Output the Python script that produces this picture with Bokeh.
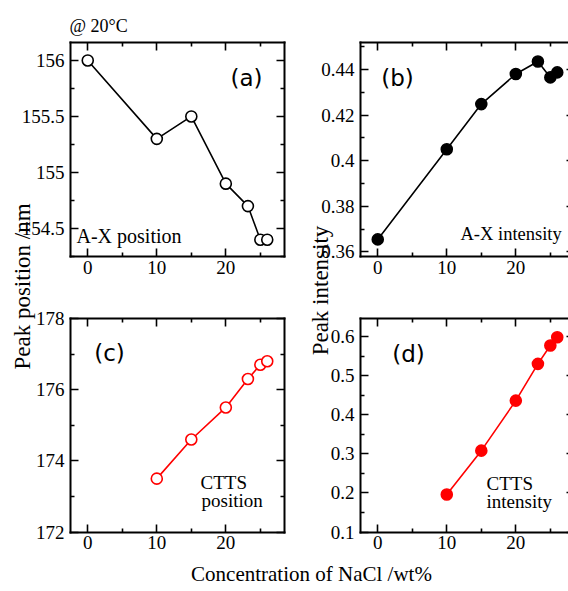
import math
from bokeh.plotting import figure
from bokeh.models import Range1d, LinearAxis, FixedTicker, Label
from bokeh.embed import file_html
from bokeh.resources import INLINE

# ---------------- data ----------------
conc_ax = [0, 10, 15, 20, 23.2, 25, 26]
ax_position = [156.0, 155.3, 155.5, 154.9, 154.7, 154.4, 154.4]
ax_intensity = [0.3655, 0.405, 0.4248, 0.438, 0.4435, 0.4365, 0.4387]

conc_ctts = [10, 15, 20, 23.2, 25, 26]
ctts_position = [173.5, 174.6, 175.5, 176.3, 176.7, 176.8]
ctts_intensity = [0.196, 0.308, 0.436, 0.530, 0.577, 0.598]

x_ticks = [0, 10, 20]
x_tick_labels = ["0", "10", "20"]
x_minor = [5, 15, 25]

a_ticks = [154.5, 155, 155.5, 156]
a_tick_labels = ["154.5", "155", "155.5", "156"]
a_minor = [154.25, 154.75, 155.25, 155.75]

b_ticks = [0.36, 0.38, 0.40, 0.42, 0.44]
b_tick_labels = ["0.36", "0.38", "0.4", "0.42", "0.44"]
b_minor = [0.37, 0.39, 0.41, 0.43, 0.45]

c_ticks = [172, 174, 176, 178]
c_tick_labels = ["172", "174", "176", "178"]
c_minor = [173, 175, 177]

d_ticks = [0.1, 0.2, 0.3, 0.4, 0.5, 0.6]
d_tick_labels = ["0.1", "0.2", "0.3", "0.4", "0.5", "0.6"]
d_minor = [0.15, 0.25, 0.35, 0.45, 0.55]

# ---------------- layout ----------------
W, H = 568, 591
SERIF = "Liberation Serif"
SANS = "DejaVu Sans"

p = figure(width=W, height=H, x_range=Range1d(0, W), y_range=Range1d(H, 0),
           x_axis_type=None, y_axis_type=None, toolbar_location=None,
           output_backend="svg", min_border=0)
p.outline_line_color = None
p.background_fill_color = "white"
p.border_fill_color = "white"

def x_range_for(d0, d1, p0, p1):
    k = (d1 - d0) / (p1 - p0)
    return Range1d(d0 - p0 * k, d0 + (W - p0) * k)

def y_range_for(d0, d1, top, bottom):
    k = (d1 - d0) / (bottom - top)
    return Range1d(d0 + (bottom - H) * k, d0 + bottom * k)

panels = {
    "a": dict(box=(70, 284, 42, 256), xd=(-2.5, 28.5), yd=(154.25, 156.16),
              yt=a_ticks, yl=a_tick_labels, ym=a_minor),
    "b": dict(box=(360, 574, 42, 256), xd=(-2.5, 28.5), yd=(0.358, 0.4518),
              yt=b_ticks, yl=b_tick_labels, ym=b_minor),
    "c": dict(box=(70, 284, 318, 531.5), xd=(-2.5, 28.5), yd=(172, 178),
              yt=c_ticks, yl=c_tick_labels, ym=c_minor),
    "d": dict(box=(360, 574, 318, 531.5), xd=(-2.5, 28.5), yd=(0.1, 0.646),
              yt=d_ticks, yl=d_tick_labels, ym=d_minor),
}

for k, s in panels.items():
    px0, px1, py0, py1 = s["box"]
    p.extra_x_ranges[k + "x"] = x_range_for(s["xd"][0], s["xd"][1], px0, px1)
    p.extra_y_ranges[k + "y"] = y_range_for(s["yd"][0], s["yd"][1], py0, py1)

def style_axis(ax):
    ax.axis_line_width = 2
    ax.axis_line_color = "black"
    ax.axis_line_cap = "square"
    ax.major_tick_in = 8
    ax.major_tick_out = 0
    ax.minor_tick_in = 4
    ax.minor_tick_out = 0
    ax.major_tick_line_width = 1.6
    ax.minor_tick_line_width = 1.6
    ax.major_tick_line_color = "black"
    ax.minor_tick_line_color = "black"
    ax.major_label_text_font = SERIF
    ax.major_label_text_font_size = "19px"
    ax.major_label_text_color = "black"
    ax.major_label_standoff = 6

for k, s in panels.items():
    px0, px1, py0, py1 = s["box"]
    for side, loc, show in (("below", py1, True), ("above", py0, False)):
        ax = LinearAxis(x_range_name=k + "x", fixed_location=loc, bounds=s["xd"],
                        ticker=FixedTicker(ticks=x_ticks, minor_ticks=x_minor),
                        major_label_overrides={t: (l if show else "") for t, l in zip(x_ticks, x_tick_labels)})
        style_axis(ax)
        if side == "below":
            ax.major_label_standoff = 4
        p.add_layout(ax, side)
    for side, loc, show in (("left", px0, True), ("right", px1, False)):
        ax = LinearAxis(y_range_name=k + "y", fixed_location=loc, bounds=s["yd"],
                        ticker=FixedTicker(ticks=s["yt"], minor_ticks=s["ym"]),
                        major_label_overrides={t: (l if show else "") for t, l in zip(s["yt"], s["yl"])})
        style_axis(ax)
        p.add_layout(ax, side)

# ---------------- data glyphs ----------------
series = [
    ("a", conc_ax, ax_position, "black", "white"),
    ("b", conc_ax, ax_intensity, "black", "black"),
    ("c", conc_ctts, ctts_position, "red", "white"),
    ("d", conc_ctts, ctts_intensity, "red", "red"),
]
for k, xs, ys, col, fill in series:
    p.line(xs, ys, x_range_name=k + "x", y_range_name=k + "y", line_color=col, line_width=1.6)
    p.scatter(xs, ys, x_range_name=k + "x", y_range_name=k + "y", size=11,
              line_color=col, fill_color=fill, line_width=1.6)

# ---------------- texts ----------------
def lab(x, y, text, font=SERIF, size="19px", align="left", baseline="alphabetic", angle=0.0):
    p.add_layout(Label(x=x, y=y, text=text, text_font=font, text_font_size=size,
                       text_align=align, text_baseline=baseline, angle=angle,
                       text_color="black"))

lab(69, 25, "@ 20°C", size="18px")
lab(246, 77, "(a)", font=SANS, size="23px", align="center", baseline="middle")
lab(397, 77, "(b)", font=SANS, size="23px", align="center", baseline="middle")
lab(109, 352, "(c)", font=SANS, size="23px", align="center", baseline="middle")
lab(408, 353, "(d)", font=SANS, size="23px", align="center", baseline="middle")

lab(76, 235, "A-X position", size="20px")
lab(460, 233, "A-X intensity", size="18.5px")
lab(200, 482, "CTTS")
lab(201, 500, "position")
lab(486, 483, "CTTS")
lab(486, 501, "intensity")

lab(22, 286, "Peak position /nm", size="23px", align="center", baseline="middle", angle=math.pi / 2)
lab(320, 290, "Peak intensity", size="23px", align="center", baseline="middle", angle=math.pi / 2)
lab(311, 573, "Concentration of NaCl /wt%", size="21px", align="center", baseline="middle")

open("out.html", "w").write(file_html(p, INLINE))
